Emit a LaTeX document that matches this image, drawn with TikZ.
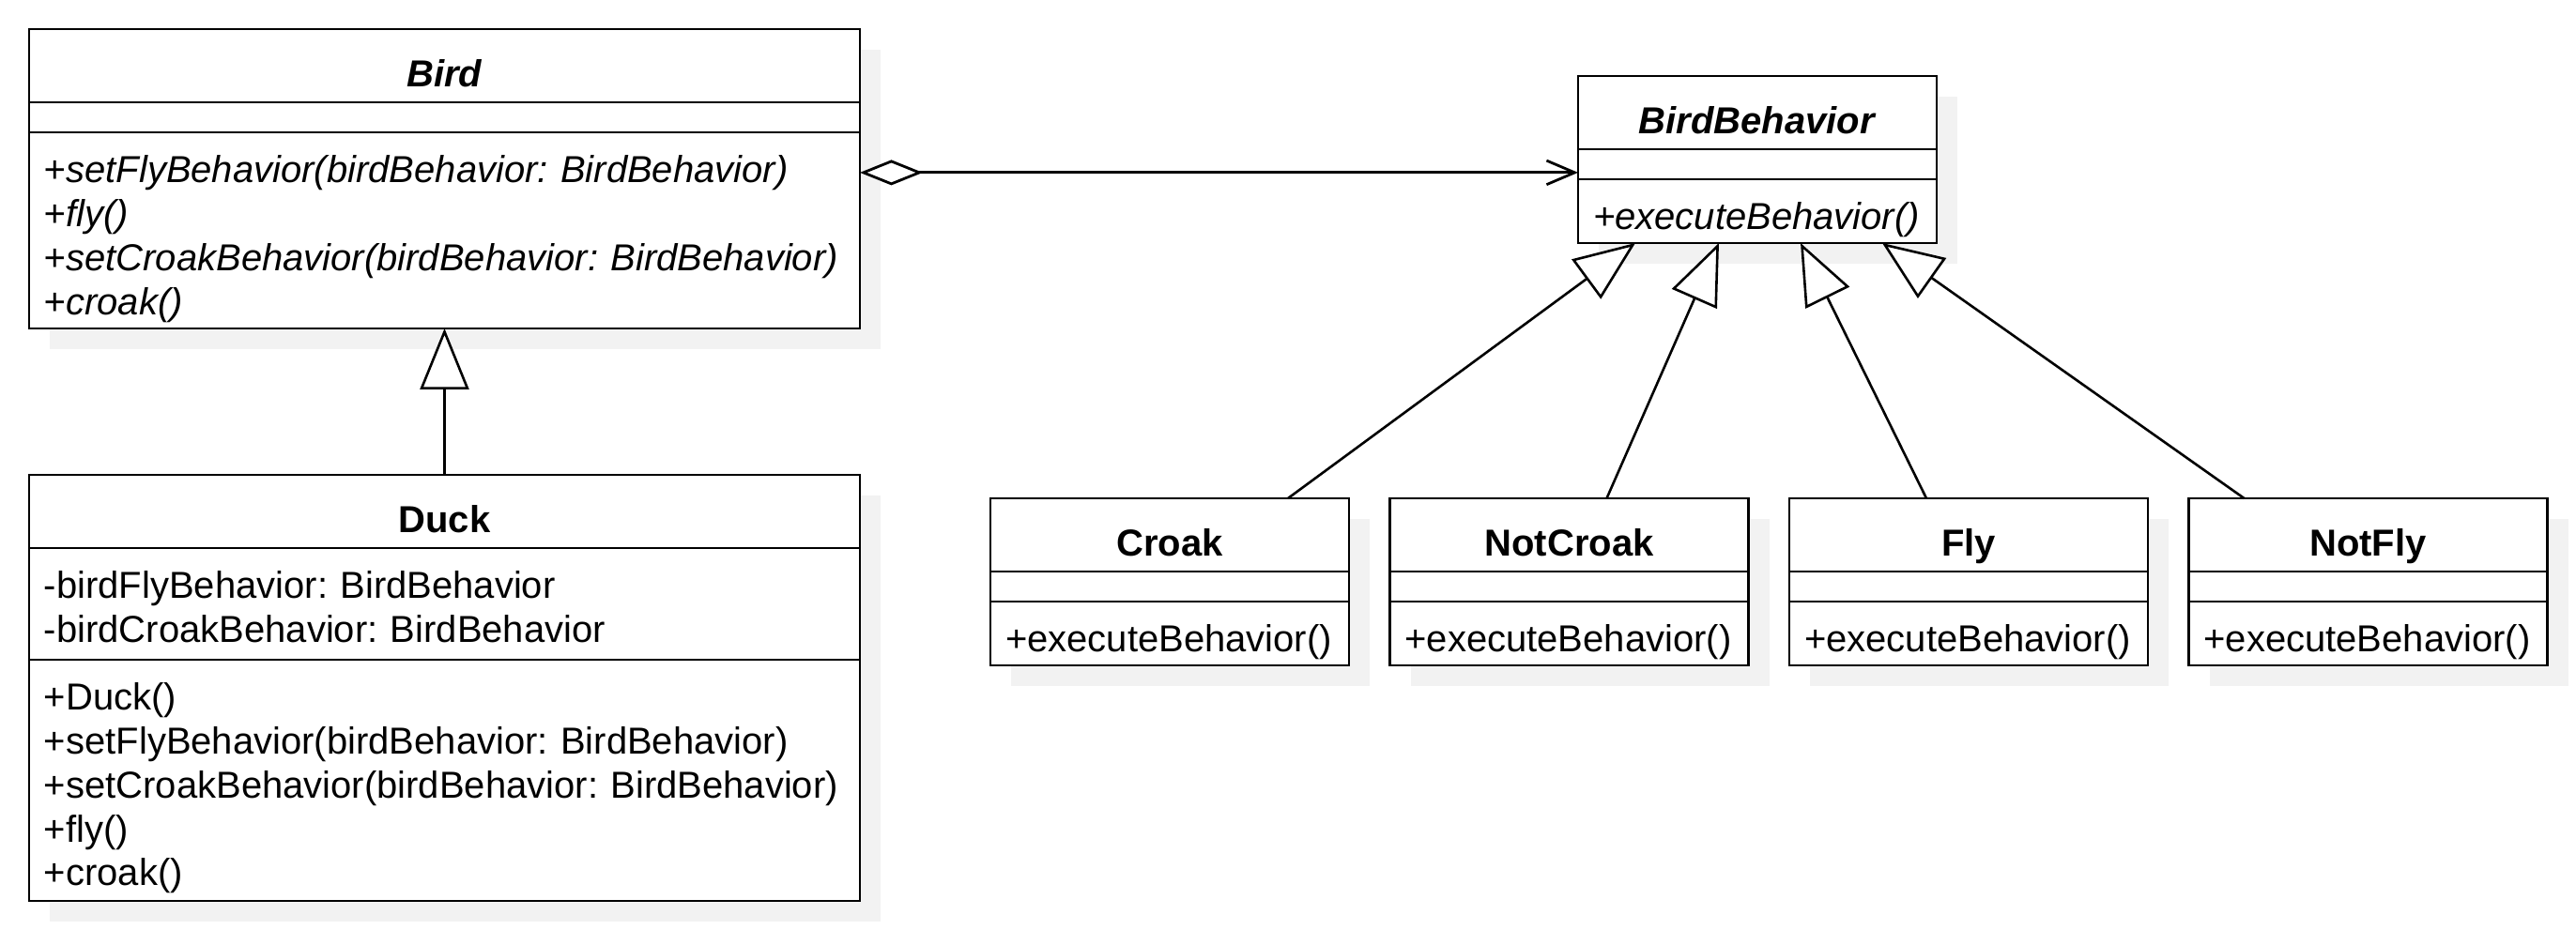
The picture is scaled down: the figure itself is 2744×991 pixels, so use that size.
\documentclass[tikz,border=0pt]{standalone}
\usepackage{fontspec}
\setmainfont{Liberation Sans}
\usetikzlibrary{positioning,shadows,arrows.meta}
\frenchspacing
\definecolor{ShadowGray}{HTML}{F2F2F2}
\newcommand{\umlfont}{\fontsize{10pt}{11.675pt}\selectfont}
\tikzstyle{umlPart}=[draw,fill=white,line width=0.7pt,outer sep=0pt,inner xsep=4pt,inner ysep=0pt,drop shadow={shadow xshift=5.5pt,shadow yshift=-5.5pt,fill=ShadowGray,opacity=1},font=\umlfont]
\tikzstyle{wideClass}=[umlPart,minimum width=221.25pt]
\tikzstyle{narrowClass}=[umlPart,minimum width=95.5pt]
\tikzstyle{nameBlock}=[minimum height=19.5pt,text height=11.25pt,text depth=0pt,font=\umlfont\bfseries]
\tikzstyle{emptyBlock}=[minimum height=8pt]
\tikzstyle{wideMembers}=[align=left,text width=213.25pt,text height=0pt]
\tikzstyle{narrowMembers}=[align=left,text width=87.5pt,minimum height=17pt,text height=10pt,text depth=0pt]
\tikzstyle{inherits}=[-{Triangle[length=16.25pt,width=13pt,fill=white]},line width=0.65pt]
\tikzstyle{aggregation}=[{Diamond[length=16.75pt,width=6.75pt,fill=white]}-{Straight Barb[length=7.5pt,width=6.4pt]},line width=0.7pt]

\begin{document}
\begin{tikzpicture}[x=0.25pt,y=-0.25pt]
    \useasboundingbox (0,0) rectangle (2744,991);

    % Bird
    \node[wideClass,nameBlock] (birdHead) at (473.5,70) {\textit{Bird}};
    \node[wideClass,emptyBlock,below=0pt of birdHead] (birdAttr) {};
    \node[wideClass,wideMembers,minimum height=52.25pt,text depth=25.25pt,font=\umlfont\itshape,below=0pt of birdAttr] (birdOps) {+setFlyBehavior(birdBehavior: BirdBehavior)\\+fly()\\+setCroakBehavior(birdBehavior: BirdBehavior)\\+croak()};

    % Duck
    \node[wideClass,nameBlock] (duckHead) at (473.5,545) {Duck};
    \node[wideClass,wideMembers,minimum height=29.75pt,text depth=2.75pt,below=0pt of duckHead] (duckAttr) {-birdFlyBehavior: BirdBehavior\\-birdCroakBehavior: BirdBehavior};
    \node[wideClass,wideMembers,minimum height=64.25pt,text depth=37.25pt,below=0pt of duckAttr] (duckOps) {+Duck()\\+setFlyBehavior(birdBehavior: BirdBehavior)\\+setCroakBehavior(birdBehavior: BirdBehavior)\\+fly()\\+croak()};

    % BirdBehavior
    \node[narrowClass,nameBlock] (bbHead) at (1872,120) {\textit{BirdBehavior}};
    \node[narrowClass,emptyBlock,below=0pt of bbHead] (bbAttr) {};
    \node[narrowClass,narrowMembers,font=\umlfont\itshape,below=0pt of bbAttr] (bbOps) {+executeBehavior()};

    % Behaviours
    \node[narrowClass,nameBlock] (croakHead) at (1246,570) {Croak};
    \node[narrowClass,emptyBlock,below=0pt of croakHead] (croakAttr) {};
    \node[narrowClass,narrowMembers,below=0pt of croakAttr] (croakOps) {+executeBehavior()};

    \node[narrowClass,nameBlock] (notCroakHead) at (1671.5,570) {NotCroak};
    \node[narrowClass,emptyBlock,below=0pt of notCroakHead] (notCroakAttr) {};
    \node[narrowClass,narrowMembers,below=0pt of notCroakAttr] (notCroakOps) {+executeBehavior()};

    \node[narrowClass,nameBlock] (flyHead) at (2097,570) {Fly};
    \node[narrowClass,emptyBlock,below=0pt of flyHead] (flyAttr) {};
    \node[narrowClass,narrowMembers,below=0pt of flyAttr] (flyOps) {+executeBehavior()};

    \node[narrowClass,nameBlock] (notFlyHead) at (2522.5,570) {NotFly};
    \node[narrowClass,emptyBlock,below=0pt of notFlyHead] (notFlyAttr) {};
    \node[narrowClass,narrowMembers,below=0pt of notFlyAttr] (notFlyOps) {+executeBehavior()};

    % Relations
    \draw[inherits] (duckHead.north) -- (birdOps.south);
    \draw[aggregation] ([yshift=15.4pt]birdOps.east) -- ([yshift=15.4pt]birdOps.east -| bbAttr.west);
    \draw[inherits] ([xshift=31.5pt]croakHead.north) -- ([xshift=-32.5pt]bbOps.south);
    \draw[inherits] ([xshift=10pt]notCroakHead.north) -- ([xshift=-10.25pt]bbOps.south);
    \draw[inherits] ([xshift=-11.25pt]flyHead.north) -- ([xshift=11.5pt]bbOps.south);
    \draw[inherits] ([xshift=-33pt]notFlyHead.north) -- ([xshift=33.25pt]bbOps.south);
\end{tikzpicture}
\end{document}
